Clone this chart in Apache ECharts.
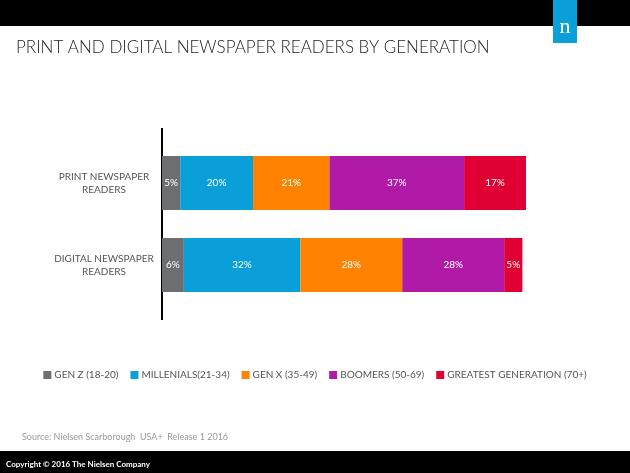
<!DOCTYPE html>
<html>
<head>
<meta charset="utf-8">
<script src="https://cdn.jsdelivr.net/npm/echarts@6/dist/echarts.min.js"></script>
<style>
  html, body { margin: 0; padding: 0; background: #fff; }
  #chart { width: 630px; height: 473px; }
</style>
</head>
<body>
<div id="chart"></div>
<script>
const categories = ['PRINT NEWSPAPER\nREADERS', 'DIGITAL NEWSPAPER\nREADERS']
const seriesNames = ['GEN Z (18-20)', 'MILLENIALS(21-34)', 'GEN X (35-49)', 'BOOMERS (50-69)', 'GREATEST GENERATION (70+)']
const genZ = [5, 6]
const millenials = [20, 32]
const genX = [21, 28]
const boomers = [37, 28]
const greatest = [17, 5]
const colors = ['#6d6e71', '#0a9fd9', '#ff8200', '#b01aa7', '#e00034']

const values = [genZ, millenials, genX, boomers, greatest]
const font = 'Lato, "Open Sans", sans-serif'

const chart = echarts.init(document.getElementById('chart'))

chart.setOption({
  animation: false,
  color: colors,
  grid: { left: 162, right: 104, top: 142, bottom: 167 },
  legend: {
    bottom: 88,
    left: 'center',
    itemWidth: 8,
    itemHeight: 8,
    itemGap: 12,
    icon: 'rect',
    textStyle: { color: '#555', fontSize: 10, fontFamily: font, padding: [0, 0, 0, -2] },
    data: seriesNames
  },
  xAxis: { type: 'value', min: 0, max: 100, show: false },
  yAxis: {
    type: 'category',
    inverse: true,
    data: categories,
    axisLine: { show: false },
    axisTick: { show: false },
    axisLabel: { color: '#555', fontSize: 10, fontFamily: font, align: 'center', margin: 58, lineHeight: 13 }
  },
  series: values.map((v, i) => ({
    name: seriesNames[i],
    type: 'bar',
    stack: 'total',
    barWidth: 54,
    data: v,
    label: {
      show: true,
      formatter: '{c}%',
      color: '#fff',
      fontSize: 10,
      fontFamily: font
    }
  })),
  graphic: [
    { type: 'rect', shape: { x: 0, y: 0, width: 630, height: 26 }, style: { fill: '#000' } },
    { type: 'rect', shape: { x: 553, y: 0, width: 24, height: 43 }, style: { fill: '#0a9fd9' } },
    { type: 'text', x: 565, y: 27, style: { text: 'n', fill: '#fff', font: '22px serif', align: 'center', verticalAlign: 'middle' } },
    { type: 'text', x: 16, y: 48, style: { text: 'PRINT AND DIGITAL NEWSPAPER READERS BY GENERATION', fill: '#222', font: '300 17px ' + font, verticalAlign: 'middle' } },
    { type: 'rect', shape: { x: 161, y: 128, width: 2, height: 192 }, style: { fill: '#000' } },
    { type: 'text', x: 22, y: 437, style: { text: 'Source: Nielsen Scarborough  USA+  Release 1 2016', fill: '#999', font: '9px ' + font, verticalAlign: 'middle' } },
    { type: 'rect', shape: { x: 0, y: 451, width: 630, height: 22 }, style: { fill: '#000' } },
    { type: 'text', x: 6, y: 464, style: { text: 'Copyright \u00a9 2016 The Nielsen Company', fill: '#fff', font: 'bold 8px ' + font, verticalAlign: 'middle' } }
  ]
})
</script>
</body>
</html>
